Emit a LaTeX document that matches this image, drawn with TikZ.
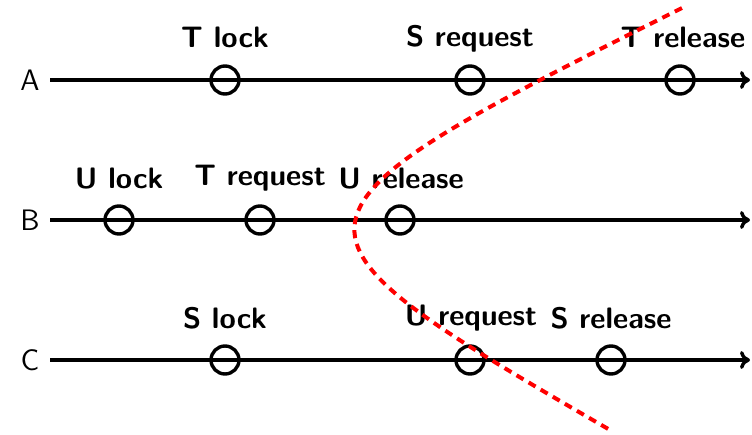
\documentclass[tikz,border=0pt]{standalone}
\usetikzlibrary{arrows.meta}
\begin{document}
\begin{tikzpicture}[x=0.5pt,y=-0.5pt,
  axis/.style={line width=1.7pt,-{To[length=5pt,width=9pt]}},
  event/.style={circle,draw,line width=1.7pt,minimum size=14pt,inner sep=0pt},
  evlabel/.style={anchor=base,inner sep=0pt,font=\fontsize{14.8}{16}\selectfont\sffamily\bfseries},
  proc/.style={inner sep=0pt,font=\fontsize{14.8}{16}\selectfont\sffamily},
  cut/.style={red,line width=2pt,dash pattern=on 4pt off 3pt}]
\useasboundingbox (0,0) rectangle (752,435);

% process time lines
\foreach \p/\y in {A/80,B/220,C/360}{
  \node[proc] (lab\p) at (30,\y) {\p};
  \coordinate (s\p) at (50,\y);
  \coordinate (e\p) at (750,\y);
  \draw[axis] (s\p) -- (e\p);
}

% events on each line
\node[event] (a1) at (225,80) {};
\node[event] (a2) at (470,80) {};
\node[event] (a3) at (680,80) {};
\node[event] (b1) at (119,220) {};
\node[event] (b2) at (260,220) {};
\node[event] (b3) at (400,220) {};
\node[event] (c1) at (225,360) {};
\node[event] (c2) at (470,360) {};
\node[event] (c3) at (611,360) {};

% event labels
\node[evlabel] (la1) at (225,47) {T lock};
\node[evlabel] (la2) at (470,46) {S request};
\node[evlabel] (la3) at (683,47) {T release};
\node[evlabel] (lb1) at (119,188) {U lock};
\node[evlabel] (lb2) at (260,185) {T request};
\node[evlabel] (lb3) at (401,188) {U release};
\node[evlabel] (lc1) at (225,328) {S lock};
\node[evlabel] (lc2) at (471,325) {U request};
\node[evlabel] (lc3) at (611,328) {S release};

% cut
\coordinate (cutTop) at (682,8);
\coordinate (cutBot) at (610,430);
\draw[cut] (cutTop) .. controls (258,220) and (258,226) .. (cutBot);
\end{tikzpicture}
\end{document}
